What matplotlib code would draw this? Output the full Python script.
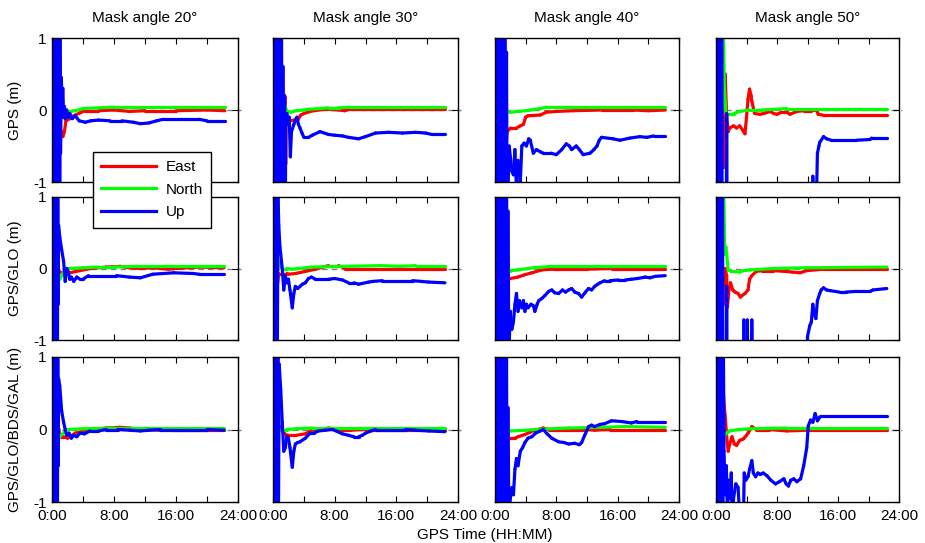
import matplotlib
matplotlib.use("Agg")
import matplotlib.pyplot as plt
from matplotlib.lines import Line2D
from matplotlib.collections import LineCollection

plt.rcParams["font.family"] = ["Liberation Sans", "DejaVu Sans"]
plt.rcParams["axes.unicode_minus"] = False
plt.rcParams["path.simplify"] = False

# ---------------------------------------------------------------------------
# Labels
# ---------------------------------------------------------------------------
mask_angles = [20, 30, 40, 50]
systems = ["GPS", "GPS/GLO", "GPS/GLO/BDS/GAL"]
components = ["East", "North", "Up"]
colors = ["#ff0000", "#00ff00", "#0000ff"]
x_ticks = [0, 4, 8, 12, 16, 20, 24]
x_tick_labels = ["0:00", "", "8:00", "", "16:00", "", "24:00"]
y_ticks = [-1, 0, 1]

# ---------------------------------------------------------------------------
# Positioning error series: (hour, metres)
# ---------------------------------------------------------------------------
# GPS only
gps_20_e = [(0.0, 0.0), (0.1, 0.6), (0.2, -0.8), (0.3, 0.9), (0.4, -0.6), (0.5, 0.5), (0.6, -0.3),
            (0.7, 0.3), (0.8, -0.2), (0.9, 0.1), (1.0, -0.25), (1.2, -0.3), (1.4, -0.37), (1.6, -0.3),
            (1.8, -0.15), (2.3, -0.12), (2.8, -0.08), (3.6, -0.04), (4.2, -0.01), (6.0, -0.01),
            (8.0, 0.0), (10.0, -0.02), (12.0, -0.01), (16.0, -0.01), (20.0, 0.0), (22.3, -0.01)]
gps_20_n = [(0.0, -1.2), (0.05, 0.2), (0.15, -1.2), (0.25, 0.2), (0.35, -0.3), (0.5, 0.1), (0.7, -0.1),
            (1.0, 0.05), (1.2, -0.05), (1.5, -0.1), (1.8, -0.03), (2.3, -0.02), (3.0, -0.01),
            (4.0, 0.02), (6.0, 0.03), (8.0, 0.04), (12.0, 0.04), (16.0, 0.04), (22.3, 0.04)]
gps_20_u = [(0.0, 0.3), (0.05, 1.5), (0.1, -1.5), (0.15, 1.5), (0.2, -1.5), (0.25, 1.5), (0.3, -1.5),
            (0.35, 1.5), (0.4, -1.5), (0.45, 1.5), (0.5, -1.5), (0.55, 1.5), (0.6, -1.5), (0.65, 1.5),
            (0.7, -1.5), (0.75, 1.5), (0.8, -1.5), (0.85, 1.5), (0.9, -1.5), (0.95, 1.5), (1.0, -1.5),
            (1.05, 1.2), (1.1, -0.6), (1.2, 0.45), (1.3, 0.1), (1.4, 0.3), (1.5, -0.1), (1.6, 0.05),
            (1.7, -0.12), (1.9, 0.0), (2.1, -0.1), (2.3, -0.05), (2.6, -0.12), (3.0, -0.08),
            (3.5, -0.15), (4.3, -0.17), (5.0, -0.15), (6.0, -0.14), (7.5, -0.15), (9.0, -0.15),
            (10.5, -0.17), (11.4, -0.19), (12.5, -0.18), (13.5, -0.15), (14.3, -0.13), (17.0, -0.13),
            (19.0, -0.13), (20.0, -0.15), (22.3, -0.15)]

gps_30_e = [(0.0, 0.5), (0.1, 1.5), (0.3, 0.8), (0.5, 1.2), (0.7, 0.6), (0.9, 0.3), (1.1, -0.5),
            (1.2, 0.18), (1.6, 0.17), (1.65, -0.75), (1.7, -0.1), (1.9, -0.14), (2.7, -0.14),
            (3.0, -0.12), (3.3, -0.12), (3.6, -0.07), (4.0, -0.05), (4.8, -0.02), (5.9, 0.0),
            (7.0, 0.01), (8.5, 0.0), (9.3, -0.01), (10.0, 0.01), (14.0, 0.01), (18.0, 0.01), (22.3, 0.01)]
gps_30_n = [(0.0, -1.2), (0.1, 0.2), (0.3, -0.5), (0.6, 0.2), (1.0, 0.0), (1.2, 0.2), (1.4, 0.1),
            (1.6, 0.05), (1.8, -0.02), (2.3, -0.03), (3.0, -0.01), (4.0, 0.0), (4.6, 0.01),
            (6.0, 0.02), (7.2, 0.03), (8.5, 0.03), (10.0, 0.04), (22.3, 0.04)]
gps_30_u = [(0.0, 0.2), (0.1, 1.5), (0.2, -1.5), (0.3, 1.5), (0.4, -1.5), (0.5, 1.5), (0.6, -1.5),
            (0.7, 1.5), (0.8, -1.5), (0.9, 1.5), (1.0, -1.5), (1.1, 1.2), (1.2, -1.5), (1.3, 0.6),
            (1.4, -1.5), (1.5, 0.2), (1.6, -1.5), (1.65, -0.2), (1.8, -0.05), (2.0, -0.2), (2.1, -0.1),
            (2.25, -0.65), (2.4, -0.3), (2.7, -0.2), (2.9, -0.15), (3.1, -0.1), (3.3, -0.2),
            (3.5, -0.25), (3.8, -0.33), (4.0, -0.38), (4.6, -0.38), (5.1, -0.35), (6.1, -0.3),
            (7.2, -0.34), (8.0, -0.35), (9.0, -0.36), (9.8, -0.38), (11.1, -0.4), (12.0, -0.37),
            (13.3, -0.32), (15.0, -0.31), (16.8, -0.32), (18.5, -0.31), (19.8, -0.32), (20.6, -0.34),
            (22.3, -0.34)]

gps_40_e = [(0.0, -0.5), (0.1, -1.2), (0.3, -0.3), (0.5, -1.2), (0.8, -0.5), (1.0, -1.1), (1.3, -0.6),
            (1.6, -0.3), (2.0, -0.25), (2.8, -0.25), (3.3, -0.22), (3.7, -0.2), (4.0, -0.1),
            (4.3, -0.08), (5.9, -0.07), (6.7, -0.03), (8.0, -0.02), (10.2, -0.01), (14.0, 0.0),
            (18.0, 0.0), (20.0, -0.01), (22.2, 0.0)]
gps_40_n = [(0.0, -1.2), (0.05, 0.14), (0.15, -1.2), (0.25, 0.14), (0.4, 0.0), (1.0, 0.1), (1.5, -0.02),
            (2.0, -0.03), (3.0, -0.02), (4.0, -0.01), (4.6, 0.0), (5.9, 0.02), (6.7, 0.04),
            (10.0, 0.04), (22.2, 0.04)]
gps_40_u = [(0.0, 0.2), (0.1, 1.5), (0.2, -1.5), (0.3, 1.5), (0.4, -1.5), (0.5, 1.5), (0.6, -1.5),
            (0.7, 1.5), (0.8, -1.5), (0.9, 1.5), (1.0, -1.5), (1.1, 1.5), (1.2, -1.5), (1.3, 1.5),
            (1.4, -1.5), (1.5, 0.8), (1.55, -0.7), (1.7, -1.1), (1.85, -0.5), (2.0, -0.65),
            (2.2, -0.85), (2.4, -0.9), (2.6, -0.55), (2.8, -1.1), (3.0, -0.7), (3.3, -1.0),
            (3.5, -0.5), (3.8, -0.46), (4.1, -0.5), (4.4, -0.4), (4.6, -0.42), (5.0, -0.6),
            (5.4, -0.55), (5.9, -0.58), (6.3, -0.6), (6.7, -0.6), (7.3, -0.6), (8.0, -0.62),
            (8.7, -0.55), (9.3, -0.47), (9.7, -0.5), (10.0, -0.55), (10.6, -0.5), (11.0, -0.55),
            (11.5, -0.62), (12.4, -0.6), (12.9, -0.55), (13.3, -0.5), (13.6, -0.42), (13.9, -0.38),
            (15.4, -0.4), (16.3, -0.42), (17.6, -0.39), (18.9, -0.37), (19.8, -0.38), (20.7, -0.36),
            (22.2, -0.36)]

gps_50_e = [(0.0, 0.0), (0.2, -1.2), (0.4, 0.5), (0.6, -1.0), (0.8, 0.3), (1.0, -0.8), (1.2, 0.5),
            (1.4, -0.1), (1.6, -0.3), (1.8, -0.25), (2.3, -0.22), (2.7, -0.25), (3.1, -0.22),
            (3.5, -0.28), (3.8, -0.33), (4.0, -0.1), (4.2, 0.15), (4.4, 0.29), (4.6, 0.2), (4.7, 0.12),
            (5.0, -0.02), (5.1, -0.05), (5.8, -0.06), (6.5, -0.04), (7.1, -0.02), (7.6, -0.05),
            (8.0, -0.06), (8.6, -0.03), (9.3, -0.03), (9.7, -0.06), (10.6, -0.02), (11.5, -0.01),
            (12.5, -0.01), (13.2, 0.0), (13.4, -0.06), (14.0, -0.07), (22.4, -0.07)]
gps_50_n = [(0.0, -1.2), (0.05, 0.1), (0.2, -1.2), (0.3, 0.1), (0.8, 0.0), (0.95, 1.2), (1.1, 0.3),
            (1.3, -0.05), (2.3, -0.05), (3.1, -0.02), (4.4, 0.0), (6.0, 0.0), (9.3, 0.02), (22.4, 0.02)]
gps_50_u = [(0.0, 0.3), (0.05, 1.5), (0.1, -1.5), (0.15, 1.5), (0.2, -1.5), (0.25, 1.5), (0.3, -1.5),
            (0.35, 1.5), (0.4, -1.5), (0.45, 1.5), (0.5, -1.5), (0.55, 1.5), (0.6, -1.5), (0.65, 1.5),
            (0.7, -1.5), (0.75, 1.5), (0.8, -1.5), (1.35, -1.5), (1.4, -0.05), (1.45, -1.5),
            (12.6, -1.5), (12.7, -0.92), (12.8, -1.2), (13.2, -1.1), (13.3, -0.6), (13.5, -0.5),
            (13.6, -0.45), (14.1, -0.37), (14.5, -0.4), (15.1, -0.42), (16.0, -0.42), (18.4, -0.42),
            (20.2, -0.41), (20.4, -0.39), (22.4, -0.39)]

# GPS + GLONASS
glo_20_e = [(0.0, 0.3), (0.2, -0.6), (0.4, 0.2), (0.6, -0.3), (0.8, 0.0), (1.0, -0.05), (1.5, -0.07),
            (2.0, -0.04), (2.3, -0.06), (3.6, -0.03), (5.0, 0.0), (7.0, 0.02), (8.8, 0.03),
            (10.0, 0.01), (11.4, 0.0), (13.0, 0.01), (15.0, -0.01), (16.0, 0.0), (19.0, 0.02),
            (22.2, 0.01)]
glo_20_n = [(0.0, -1.2), (0.05, -0.1), (0.15, -1.2), (0.3, 0.0), (0.6, -0.1), (1.0, -0.15), (1.5, -0.05),
            (2.1, 0.0), (4.0, 0.01), (6.0, 0.02), (8.0, 0.02), (11.0, 0.03), (14.0, 0.03), (22.2, 0.03)]
glo_20_u = [(0.0, 0.3), (0.05, 1.5), (0.1, -1.5), (0.15, 1.5), (0.2, -1.5), (0.25, 1.5), (0.3, -1.5),
            (0.35, 1.5), (0.4, -1.5), (0.45, 1.5), (0.5, -1.5), (0.55, 1.5), (0.6, -1.5), (0.65, 1.5),
            (0.7, -1.5), (0.75, 1.5), (0.8, -0.5), (0.85, 0.6), (1.0, 0.44), (1.25, 0.26), (1.5, 0.1),
            (1.7, -0.18), (1.9, 0.0), (2.1, -0.05), (2.3, -0.15), (2.5, -0.12), (2.8, -0.18),
            (3.2, -0.12), (3.6, -0.15), (4.0, -0.15), (4.7, -0.1), (6.2, -0.1), (8.3, -0.1),
            (10.0, -0.12), (11.4, -0.13), (13.0, -0.08), (15.7, -0.06), (18.2, -0.07), (19.0, -0.08),
            (22.2, -0.08)]

glo_30_e = [(0.0, 0.4), (0.2, -0.5), (0.4, 0.3), (0.6, -0.2), (0.75, -0.07), (1.8, -0.07), (2.0, -0.08),
            (2.9, -0.07), (4.2, -0.04), (5.5, -0.01), (7.2, 0.04), (8.5, 0.04), (9.4, 0.0),
            (12.0, 0.0), (16.0, 0.0), (22.3, 0.0)]
glo_30_n = [(0.0, -1.2), (0.05, 0.1), (0.2, -0.5), (0.4, 0.2), (0.8, 0.05), (1.2, 0.0), (1.8, 0.0),
            (2.5, -0.01), (5.0, 0.02), (9.4, 0.03), (14.0, 0.04), (16.5, 0.03), (18.5, 0.04), (22.3, 0.04)]
glo_30_u = [(0.0, 0.3), (0.05, 1.5), (0.1, -1.5), (0.15, 1.5), (0.2, -1.5), (0.25, 1.5), (0.3, -1.5),
            (0.35, 1.5), (0.4, -1.5), (0.45, 1.5), (0.5, -1.5), (0.55, -1.5), (0.65, 1.0), (0.75, 0.6),
            (0.9, 0.3), (1.0, 0.2), (1.2, 0.0), (1.4, -0.3), (1.6, -0.1), (1.8, -0.2), (2.0, -0.15),
            (2.2, -0.3), (2.5, -0.55), (2.7, -0.35), (2.9, -0.25), (3.2, -0.28), (3.5, -0.25),
            (3.8, -0.22), (4.2, -0.2), (4.6, -0.14), (5.0, -0.12), (5.5, -0.15), (5.9, -0.15),
            (7.2, -0.15), (8.0, -0.14), (9.0, -0.16), (9.8, -0.2), (10.5, -0.2), (11.1, -0.22),
            (12.4, -0.19), (13.0, -0.18), (14.2, -0.17), (15.9, -0.17), (18.1, -0.17), (20.2, -0.19),
            (22.3, -0.2)]

glo_40_e = [(0.0, 0.5), (0.1, 1.2), (0.2, -0.2), (0.3, 1.0), (0.4, -0.5), (0.5, -0.2), (0.65, -0.86),
            (0.8, -0.3), (0.9, -0.6), (1.1, -0.2), (1.3, -0.15), (2.0, -0.14), (3.0, -0.12),
            (3.8, -0.09), (4.8, -0.06), (6.1, -0.02), (7.5, -0.01), (9.1, -0.01), (12.0, -0.01),
            (15.2, 0.0), (22.2, 0.0)]
glo_40_n = [(0.0, -1.2), (0.05, 0.9), (0.15, -1.2), (0.25, 0.1), (0.4, 0.1), (0.6, 0.0), (1.0, -0.03),
            (2.0, -0.03), (3.0, -0.02), (4.3, 0.0), (5.0, 0.01), (7.4, 0.03), (10.0, 0.03), (22.2, 0.03)]
glo_40_u = [(0.0, 0.2), (0.1, 1.5), (0.2, -1.5), (0.3, 1.5), (0.4, -1.5), (0.5, 1.5), (0.6, -1.5),
            (0.7, 1.5), (0.8, -1.5), (0.9, 1.5), (1.0, -1.5), (1.1, 1.5), (1.2, -1.5), (1.3, 1.5),
            (1.4, -1.5), (1.5, 1.5), (1.6, -1.5), (1.7, 0.8), (1.8, -1.2), (2.0, -0.6), (2.2, -0.85),
            (2.4, -0.75), (2.6, -0.5), (2.8, -0.35), (3.0, -0.6), (3.2, -0.45), (3.5, -0.55),
            (3.7, -0.45), (3.9, -0.6), (4.1, -0.5), (4.3, -0.55), (4.7, -0.5), (5.0, -0.52),
            (5.2, -0.6), (5.5, -0.5), (5.7, -0.45), (6.1, -0.42), (6.5, -0.38), (7.0, -0.32),
            (7.4, -0.3), (7.8, -0.34), (8.3, -0.35), (8.8, -0.3), (9.2, -0.33), (9.6, -0.3),
            (10.0, -0.28), (10.4, -0.33), (10.9, -0.35), (11.3, -0.4), (11.8, -0.33), (12.2, -0.28),
            (12.6, -0.3), (13.0, -0.25), (13.4, -0.22), (13.7, -0.2), (14.3, -0.17), (15.0, -0.17),
            (16.1, -0.16), (17.0, -0.16), (17.8, -0.15), (18.6, -0.14), (19.6, -0.12), (20.2, -0.13),
            (20.9, -0.11), (22.2, -0.1)]

glo_50_e = [(0.0, 0.0), (0.2, -0.8), (0.4, 0.4), (0.6, -0.6), (0.8, 0.2), (1.0, -0.5), (1.2, 0.0),
            (1.4, -0.1), (1.5, -0.54), (1.7, -0.3), (1.9, -0.2), (2.2, -0.3), (2.5, -0.33),
            (2.9, -0.35), (3.2, -0.4), (3.4, -0.38), (3.8, -0.35), (4.2, -0.3), (4.4, -0.15),
            (4.7, -0.1), (5.3, -0.04), (6.0, -0.03), (7.5, -0.03), (9.0, -0.04), (10.0, -0.05),
            (11.0, -0.06), (11.9, -0.03), (14.1, -0.01), (22.4, -0.01)]
glo_50_n = [(0.0, -1.2), (0.05, 0.1), (0.2, -1.2), (0.3, 0.1), (0.8, 0.1), (1.0, 1.2), (1.15, 0.2),
            (1.3, 0.3), (1.6, -0.02), (2.0, -0.04), (3.1, -0.05), (3.6, -0.03), (4.5, -0.02),
            (7.5, 0.0), (11.9, 0.01), (22.4, 0.02)]
glo_50_u = [(0.0, 0.3), (0.05, 1.5), (0.1, -1.5), (0.15, 1.5), (0.2, -1.5), (0.25, 1.5), (0.3, -1.5),
            (0.35, 1.5), (0.4, -1.5), (0.45, 1.5), (0.5, -1.5), (0.55, 1.5), (0.6, -1.5), (0.65, 1.5),
            (0.7, -1.5), (0.75, 1.5), (0.8, -1.5), (0.85, 1.5), (0.9, -1.5), (1.35, -1.5), (1.4, -0.25),
            (1.45, -1.5), (3.6, -1.5), (3.65, -0.72), (3.75, -1.5), (4.0, -1.5), (4.1, -0.72),
            (4.2, -1.5), (4.6, -1.5), (4.7, -0.72), (4.8, -1.5), (11.8, -1.5), (12.0, -0.95),
            (12.3, -0.8), (12.5, -0.75), (12.7, -0.5), (12.9, -0.65), (13.1, -0.7), (13.3, -0.45),
            (13.6, -0.35), (13.8, -0.3), (14.1, -0.27), (14.5, -0.3), (15.0, -0.31), (16.2, -0.33),
            (17.0, -0.33), (18.4, -0.32), (20.2, -0.32), (20.6, -0.3), (22.4, -0.28)]

# GPS + GLONASS + BeiDou + Galileo
all_20_e = [(0.0, 0.3), (0.2, -0.5), (0.4, 0.2), (0.6, -0.2), (0.9, 0.0), (1.0, -0.1), (1.5, -0.1),
            (2.0, -0.12), (2.3, -0.1), (3.0, -0.05), (4.2, -0.02), (5.5, 0.0), (7.0, 0.02),
            (8.8, 0.03), (10.0, 0.02), (12.0, 0.0), (14.0, -0.01), (15.5, 0.0), (22.2, 0.0)]
all_20_n = [(0.0, -1.2), (0.05, 0.0), (0.15, -1.2), (0.3, 0.0), (0.7, -0.15), (1.0, -0.1), (1.9, 0.0),
            (4.0, 0.01), (8.0, 0.02), (12.0, 0.02), (22.2, 0.02)]
all_20_u = [(0.0, 0.3), (0.05, 1.5), (0.1, -1.5), (0.15, 1.5), (0.2, -1.5), (0.25, 1.5), (0.3, -1.5),
            (0.35, 1.5), (0.4, -1.5), (0.45, 1.5), (0.5, -1.5), (0.55, 1.5), (0.6, -1.5), (0.65, 1.5),
            (0.7, -1.5), (0.75, 1.5), (0.8, -0.5), (0.85, 0.7), (1.0, 0.6), (1.25, 0.25), (1.5, 0.1),
            (1.7, 0.0), (1.9, -0.08), (2.2, -0.05), (2.5, -0.12), (2.8, -0.08), (3.2, -0.1),
            (3.6, -0.05), (4.2, -0.06), (4.9, -0.02), (6.0, -0.02), (7.0, 0.0), (8.5, 0.0),
            (10.0, -0.01), (11.4, -0.02), (12.5, -0.01), (14.0, 0.0), (15.7, 0.0), (18.0, 0.0),
            (20.0, 0.0), (22.2, -0.01)]

all_30_e = [(0.0, 0.4), (0.2, -0.4), (0.4, 0.3), (0.6, -0.1), (0.8, 0.05), (1.2, 0.0), (1.6, -0.07),
            (2.0, -0.08), (3.0, -0.08), (4.2, -0.06), (5.0, -0.01), (6.0, 0.0), (7.2, 0.02),
            (8.0, 0.01), (9.0, -0.01), (10.0, -0.01), (12.0, 0.0), (22.3, 0.0)]
all_30_n = [(0.0, -1.2), (0.05, 0.1), (0.2, -0.3), (0.4, 0.1), (0.8, 0.0), (1.8, 0.0), (3.0, 0.01),
            (5.0, 0.02), (10.0, 0.02), (22.3, 0.02)]
all_30_u = [(0.0, 0.3), (0.05, 1.5), (0.1, -1.5), (0.15, 1.5), (0.2, -1.5), (0.25, 1.5), (0.3, -1.5),
            (0.35, 1.5), (0.4, -1.5), (0.45, 1.5), (0.5, -1.5), (0.55, 1.5), (0.6, -1.5), (0.65, 1.5),
            (0.7, -1.5), (0.8, 0.9), (1.0, 0.55), (1.2, 0.1), (1.4, -0.3), (1.6, -0.25), (1.8, -0.1),
            (2.0, -0.12), (2.2, -0.25), (2.5, -0.52), (2.7, -0.3), (2.9, -0.2), (3.2, -0.18),
            (3.5, -0.17), (3.9, -0.14), (4.2, -0.12), (4.8, -0.05), (5.3, -0.05), (5.9, -0.02),
            (6.8, -0.01), (7.7, 0.0), (8.2, -0.02), (9.0, -0.06), (9.8, -0.08), (10.5, -0.1),
            (11.1, -0.1), (11.6, -0.08), (12.0, -0.05), (12.7, -0.02), (13.3, 0.0), (15.0, 0.0),
            (17.2, 0.0), (18.5, -0.01), (20.2, -0.02), (22.3, -0.03)]

all_40_e = [(0.0, 0.5), (0.1, 1.2), (0.2, -0.2), (0.3, 0.8), (0.4, -0.3), (0.55, -0.5), (0.65, -0.64),
            (0.8, -0.3), (1.0, -0.5), (1.2, -0.15), (1.75, -0.12), (2.6, -0.12), (3.0, -0.1),
            (3.9, -0.07), (4.5, -0.04), (5.2, -0.01), (6.3, 0.02), (7.0, 0.0), (11.7, 0.0),
            (13.0, -0.01), (15.0, 0.0), (22.2, 0.0)]
all_40_n = [(0.0, -1.2), (0.05, 0.2), (0.15, -1.2), (0.25, 0.2), (0.4, -0.1), (0.6, 0.1), (1.0, 0.0),
            (2.0, -0.02), (4.0, -0.01), (5.2, 0.0), (9.6, 0.02), (13.7, 0.03), (16.9, 0.04), (22.2, 0.03)]
all_40_u = [(0.0, 0.2), (0.1, 1.5), (0.2, -1.5), (0.3, 1.5), (0.4, -1.5), (0.5, 1.5), (0.6, -1.5),
            (0.7, 1.5), (0.8, -1.5), (0.9, 1.5), (1.0, -1.5), (1.1, 1.5), (1.2, -1.5), (1.3, 1.5),
            (1.4, -1.5), (1.5, 1.0), (1.6, -1.5), (1.7, 0.3), (1.8, -1.2), (2.0, -0.95), (2.2, -0.8),
            (2.4, -0.9), (2.6, -0.55), (2.8, -0.4), (3.0, -0.5), (3.3, -0.3), (3.6, -0.25),
            (3.9, -0.18), (4.3, -0.12), (4.8, -0.1), (5.3, -0.05), (5.9, -0.02), (6.3, 0.0),
            (6.8, -0.06), (7.4, -0.12), (8.3, -0.17), (9.0, -0.18), (9.6, -0.2), (10.4, -0.19),
            (11.0, -0.21), (11.3, -0.18), (11.7, -0.08), (12.2, 0.04), (12.6, 0.06), (13.0, 0.04),
            (13.7, 0.07), (14.3, 0.08), (15.2, 0.12), (16.5, 0.11), (17.8, 0.09), (18.5, 0.11),
            (22.2, 0.11)]

all_50_e = [(0.0, 0.0), (0.2, -1.2), (0.4, 0.5), (0.5, 1.2), (0.7, 0.8), (0.9, 0.6), (1.1, 0.3),
            (1.2, 0.19), (1.4, -0.1), (1.6, -0.3), (1.8, -0.2), (2.1, -0.1), (2.4, -0.2), (2.7, -0.22),
            (3.1, -0.15), (3.6, -0.13), (4.0, -0.08), (4.2, -0.05), (4.7, 0.04), (5.3, 0.0),
            (7.0, 0.0), (9.3, -0.02), (11.9, -0.01), (22.4, -0.01)]
all_50_n = [(0.0, -1.2), (0.05, 0.0), (0.2, -0.8), (0.4, 0.0), (0.9, -0.1), (1.0, -0.1), (1.4, -0.05),
            (1.8, -0.02), (3.0, 0.0), (4.5, 0.01), (9.3, 0.02), (22.4, 0.02)]
all_50_u = [(0.0, 0.3), (0.05, 1.5), (0.1, -1.5), (0.15, 1.5), (0.2, -1.5), (0.25, 1.5), (0.3, -1.5),
            (0.35, 1.5), (0.4, -1.5), (0.45, 1.5), (0.5, -1.5), (0.55, 1.5), (0.6, -1.5), (0.65, 1.5),
            (0.7, -1.5), (0.75, 1.5), (0.8, -1.5), (0.85, 1.5), (0.9, -1.5), (0.95, 1.5), (1.05, -0.3),
            (1.2, -0.9), (1.35, -0.5), (1.5, -1.2), (1.65, -0.7), (1.8, -0.95), (2.0, -0.6),
            (2.1, -1.2), (2.3, -0.95), (2.6, -0.75), (2.9, -0.8), (3.1, -1.2), (3.6, -1.2),
            (3.7, -0.6), (3.9, -0.7), (4.2, -0.65), (4.4, -0.55), (4.7, -0.43), (4.9, -0.6),
            (5.2, -0.65), (5.5, -0.6), (5.8, -0.62), (6.2, -0.6), (6.7, -0.64), (7.2, -0.7),
            (7.8, -0.75), (8.3, -0.72), (8.9, -0.68), (9.2, -0.75), (9.5, -0.78), (9.8, -0.7),
            (10.2, -0.68), (10.6, -0.72), (11.1, -0.68), (11.5, -0.5), (11.9, -0.25), (12.1, 0.05),
            (12.4, 0.13), (12.7, 0.1), (13.0, 0.22), (13.3, 0.12), (13.6, 0.17), (13.8, 0.18),
            (14.2, 0.18), (16.4, 0.18), (22.4, 0.18)]

panel_series = [
    [(gps_20_e, gps_20_n, gps_20_u), (gps_30_e, gps_30_n, gps_30_u),
     (gps_40_e, gps_40_n, gps_40_u), (gps_50_e, gps_50_n, gps_50_u)],
    [(glo_20_e, glo_20_n, glo_20_u), (glo_30_e, glo_30_n, glo_30_u),
     (glo_40_e, glo_40_n, glo_40_u), (glo_50_e, glo_50_n, glo_50_u)],
    [(all_20_e, all_20_n, all_20_u), (all_30_e, all_30_n, all_30_u),
     (all_40_e, all_40_n, all_40_u), (all_50_e, all_50_n, all_50_u)],
]

# ---------------------------------------------------------------------------
# Layout (pixel edges of the panel grid)
# ---------------------------------------------------------------------------
W, H = 925, 543
col_edges = [(52, 238), (273, 458), (495, 679), (716, 899)]
row_edges = [(38, 182), (197, 340), (357, 502)]
LW = 2.3

fig = plt.figure(figsize=(W / 100, H / 100), dpi=100)

for r, system in enumerate(systems):
    for c, angle in enumerate(mask_angles):
        x0, x1 = col_edges[c]
        y0, y1 = row_edges[r]
        ax = fig.add_axes([x0 / W, 1 - y1 / H, (x1 - x0) / W, (y1 - y0) / H])
        ax.plot([0, 24.4], [0, 0], color="#808080", lw=1.0, ls=(0, (4, 3)),
                clip_on=False, zorder=1)
        for data, col in zip(panel_series[r][c], colors):
            # stroke every sample-to-sample step on its own so the dense
            # start-up oscillation renders as a solid band
            segs = [[data[i], data[i + 1]] for i in range(len(data) - 1)]
            lc = LineCollection(segs, colors=col, linewidths=LW,
                                capstyle="round", joinstyle="round", zorder=2)
            ax.add_collection(lc)
        ax.set_xlim(0, 24)
        ax.set_ylim(-1, 1)
        ax.set_xticks(x_ticks)
        ax.set_yticks(y_ticks)
        ax.tick_params(direction="in", length=4, width=0.8, top=True, right=True,
                       labelsize=11, pad=4)
        ax.tick_params(axis="x", pad=5)
        for s in ax.spines.values():
            s.set_linewidth(1.0)
        if r == len(systems) - 1:
            ax.set_xticklabels(x_tick_labels)
        else:
            ax.set_xticklabels([])
        if c == 0:
            ax.set_yticklabels([str(v) for v in y_ticks])
        else:
            ax.set_yticklabels([])
        if r == 0:
            fig.text((x0 + x1) / 2 / W, 1 - 18 / H, f"Mask angle {angle}°",
                     ha="center", va="center", fontsize=11)
        if c == 0:
            fig.text(15 / W, 1 - (y0 + y1) / 2 / H, f"{system} (m)", rotation=90,
                     ha="center", va="center", fontsize=11)

fig.text(485 / W, 1 - 535 / H, "GPS Time (HH:MM)", ha="center", va="center", fontsize=11)

handles = [Line2D([], [], color=col, lw=LW) for col in colors]
leg = fig.legend(handles, components, loc="upper left",
                 bbox_to_anchor=(93 / W, 1 - 152 / H), fontsize=11,
                 frameon=True, fancybox=False, framealpha=1, edgecolor="black",
                 handlelength=3.6, labelspacing=0.55, borderpad=0.55, handletextpad=0.6,
                 borderaxespad=0)
leg.get_frame().set_linewidth(1.0)

fig.savefig("out.png", dpi=100)
